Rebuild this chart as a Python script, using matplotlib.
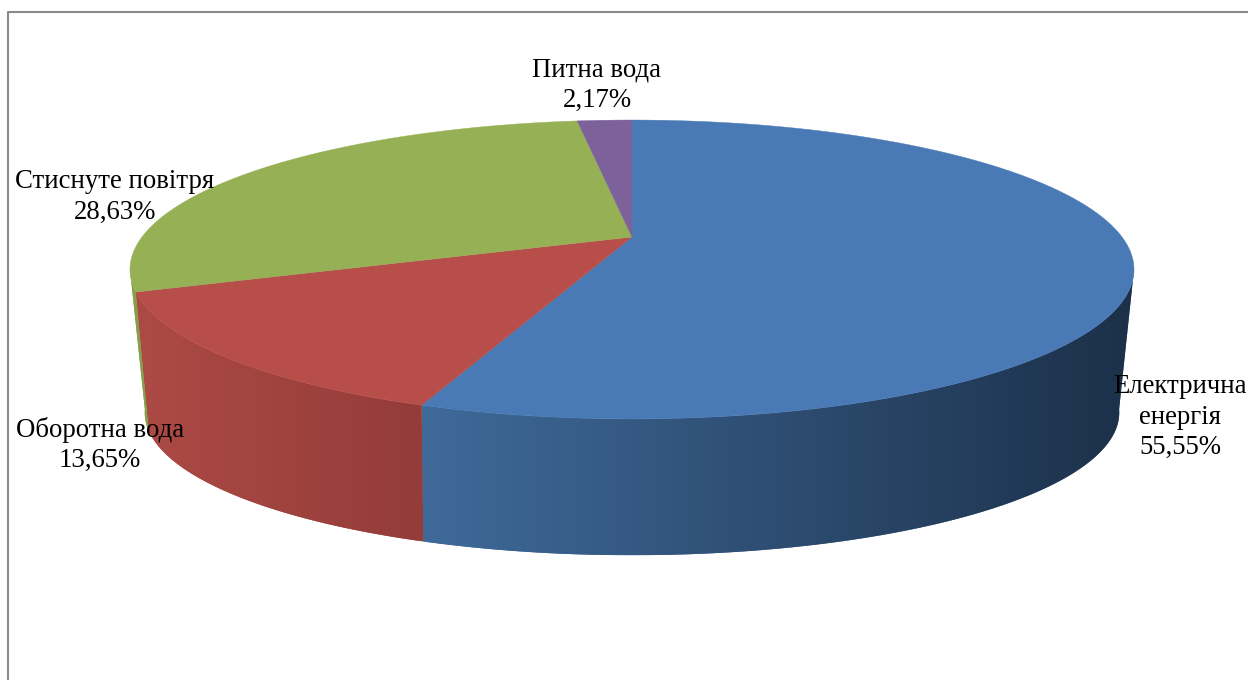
import numpy as np
import matplotlib
matplotlib.use('Agg')
import matplotlib.pyplot as plt
from matplotlib.colors import LinearSegmentedColormap
from matplotlib.patches import Polygon

plt.rcParams['font.family'] = ['Liberation Serif', 'DejaVu Serif']

# Дані
labels = ['Електрична\nенергія', 'Оборотна вода', 'Стиснуте повітря', 'Питна вода']
shares = [55.55, 13.65, 28.63, 2.17]
top_colors = ['#4a7ab5', '#b84e4a', '#96b056', '#7d619b']
side_left = ['#3f6a9a', '#ad4a45', '#84a04a', '#6a5285']
side_right = ['#1c3049', '#933c39', '#84a04a', '#6a5285']
label_pos = [(1180, 417), (100, 445), (115, 197), (597, 85.5)]

W, H = 1248, 680
cx, cy = 632, 237
k = 0.2174       # перспектива
rx, ry = 490, 142.4
k_bot = 0.24
rx_bot, ry_bot = 473, 134.3
cy_bot = 378.5


def top_xy(t):
    s, c = np.sin(t), np.cos(t)
    d = 1 + k * s
    return cx + rx * c / d, cy - ry * s / d


def bot_xy(t):
    s, c = np.sin(t), np.cos(t)
    d = 1 + k_bot * s
    return cx + rx_bot * c / d, cy_bot - ry_bot * s / d


fig = plt.figure(figsize=(W / 100, H / 100), dpi=100)
ax = fig.add_axes([0, 0, 1, 1])
ax.set_xlim(0, W)
ax.set_ylim(H, 0)
ax.axis('off')

# Рамка
ax.plot([7.5, 7.5, W + 5], [H + 5, 12, 12], color='#8a8a8a', lw=1.5)

# Межі секторів: за годинниковою стрілкою від верхньої точки
edges = np.radians(90 - 3.6 * np.concatenate(([0], np.cumsum(shares))))
vis_hi = np.arcsin(-k)                # права межа видимої бічної стінки
vis_lo = -np.pi - vis_hi              # ліва межа

# Бічна стінка
for i in range(len(shares)):
    hi = min(edges[i], vis_hi)
    lo = max(edges[i + 1], vis_lo)
    if hi <= lo:
        continue
    t = np.linspace(hi, lo, 200)
    xt, yt = top_xy(t)
    xb, yb = bot_xy(t)
    pts = np.column_stack([np.r_[xt, xb[::-1]], np.r_[yt, yb[::-1]]])
    poly = Polygon(pts, closed=True, fc=side_left[i], ec='none', zorder=2)
    ax.add_patch(poly)
    x0, x1 = pts[:, 0].min(), pts[:, 0].max()
    y0, y1 = pts[:, 1].min(), pts[:, 1].max()
    cmap = LinearSegmentedColormap.from_list('side', [side_left[i], side_right[i]])
    im = ax.imshow(np.linspace(0, 1, 256).reshape(1, -1), cmap=cmap, aspect='auto',
                   extent=[x0, x1, y1, y0], zorder=3)
    im.set_clip_path(poly)

ax.set_xlim(0, W)
ax.set_ylim(H, 0)

# Верхня поверхня
for i in range(len(shares)):
    t = np.linspace(edges[i], edges[i + 1], 300)
    x, y = top_xy(t)
    ax.add_patch(Polygon(np.column_stack([np.r_[cx, x], np.r_[cy, y]]), closed=True,
                         fc=top_colors[i], ec=top_colors[i], lw=0.3, zorder=4))

# Підписи
for lab, val, (px, py) in zip(labels, shares, label_pos):
    txt = lab + '\n' + f'{val:.2f}'.replace('.', ',') + '%'
    ax.text(px, py, txt, ha='center', va='center', fontsize=19.3, color='black',
            linespacing=1.3, zorder=5)

fig.savefig('out.png', dpi=100)
